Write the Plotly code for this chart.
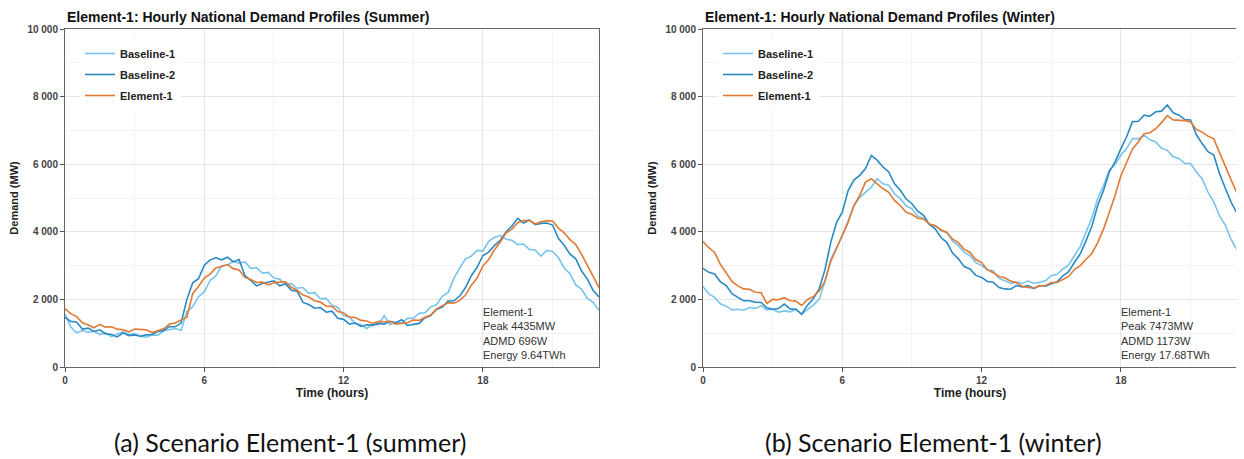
import plotly.graph_objects as go

# ---------------- data (MW, 15-minute steps from 0 h to 23 h) ----------------
HOURS = [i * 0.25 for i in range(93)]

summer_baseline1 = [
    1570, 1180, 1010, 1080,
    1030, 1060, 960, 1010,
    900, 980, 1040, 960,
    990, 910, 880, 950,
    940, 1070, 1100, 1140,
    1090, 1640, 1780, 2080,
    2220, 2560, 2700, 3000,
    3010, 3130, 3070, 3110,
    2920, 2940, 2780, 2800,
    2630, 2600, 2430, 2470,
    2330, 2350, 2180, 2200,
    2020, 2030, 1830, 1760,
    1530, 1470, 1290, 1250,
    1140, 1260, 1250, 1520,
    1250, 1330, 1300, 1440,
    1440, 1590, 1600, 1780,
    1840, 2090, 2200, 2620,
    2930, 3200, 3280, 3450,
    3430, 3720, 3840, 3890,
    3780, 3750, 3620, 3640,
    3480, 3460, 3280, 3450,
    3420, 3240, 2930, 2760,
    2430, 2300, 2030, 1910,
    1670,
]
summer_baseline2 = [
    1470, 1350, 1330, 1120,
    1150, 1050, 1100, 980,
    960, 890, 1010, 930,
    950, 910, 950, 960,
    1050, 1080, 1200, 1190,
    1300, 2000, 2490, 2610,
    3010, 3170, 3230, 3170,
    3250, 3110, 3180, 2700,
    2560, 2400, 2470, 2500,
    2550, 2400, 2460, 2270,
    2240, 1910, 1850, 1740,
    1760, 1620, 1650, 1440,
    1410, 1270, 1300, 1200,
    1250, 1240, 1290, 1270,
    1350, 1310, 1400, 1230,
    1250, 1290, 1450, 1520,
    1700, 1770, 1950, 1960,
    2100, 2350, 2700, 2950,
    3300, 3400, 3600, 3750,
    4000, 4170, 4400, 4260,
    4350, 4210, 4250, 4260,
    4200, 3810, 3600, 3340,
    3200, 2840, 2600, 2260,
    2070,
]
summer_element1 = [
    1720, 1580, 1490, 1310,
    1240, 1160, 1260, 1180,
    1190, 1120, 1100, 1040,
    1120, 1110, 1100, 1020,
    1070, 1130, 1270, 1300,
    1390, 1470, 2170, 2380,
    2630, 2750, 2930, 2980,
    3030, 2910, 2870, 2650,
    2590, 2500, 2510, 2430,
    2490, 2510, 2520, 2360,
    2270, 2130, 2070, 1960,
    1920, 1800, 1790, 1640,
    1600, 1480, 1460, 1380,
    1360, 1290, 1350, 1340,
    1350, 1270, 1300, 1310,
    1390, 1380, 1470, 1540,
    1720, 1820, 1900, 1890,
    1970, 2130, 2420, 2630,
    2990, 3180, 3470, 3700,
    3970, 4080, 4270, 4330,
    4340, 4230, 4300, 4330,
    4320, 4110, 3970, 3770,
    3620, 3330, 3020, 2680,
    2350,
]

winter_baseline1 = [
    2380, 2160, 2060, 1870,
    1800, 1690, 1710, 1680,
    1760, 1730, 1810, 1690,
    1710, 1620, 1660, 1630,
    1710, 1560, 1700, 1830,
    2000, 2520, 3180, 3530,
    3890, 4320, 4780, 5020,
    5180, 5320, 5570, 5420,
    5380, 5120, 4980, 4770,
    4680, 4470, 4390, 4220,
    4190, 4030, 3990, 3720,
    3590, 3390, 3300, 3090,
    3000, 2870, 2850, 2620,
    2550, 2470, 2510, 2470,
    2550, 2470, 2510, 2550,
    2700, 2740, 2900, 3020,
    3300, 3570, 3990, 4420,
    4980, 5370, 5820, 5990,
    6270, 6470, 6760, 6750,
    6860, 6720, 6660, 6470,
    6410, 6220, 6170, 6020,
    6020, 5770, 5570, 5170,
    4880, 4470, 4190, 3770,
    3460,
]
winter_baseline2 = [
    2920, 2800, 2750, 2520,
    2410, 2170, 2060, 1960,
    1960, 1920, 1910, 1750,
    1710, 1730, 1860, 1720,
    1710, 1560, 1830, 2020,
    2310, 2870, 3680, 4270,
    4580, 5220, 5530, 5670,
    5870, 6260, 6120, 5920,
    5770, 5420, 5230, 4970,
    4830, 4610, 4490, 4220,
    4090, 3830, 3690, 3370,
    3200, 2970, 2900, 2710,
    2650, 2530, 2510, 2350,
    2310, 2300, 2410, 2370,
    2410, 2320, 2410, 2390,
    2460, 2520, 2700, 2820,
    3100, 3350, 3740, 4170,
    4780, 5220, 5770, 6070,
    6460, 6820, 7260, 7270,
    7450, 7420, 7550, 7570,
    7750, 7520, 7450, 7320,
    7310, 6870, 6610, 6370,
    6270, 5720, 5280, 4870,
    4550,
]
winter_element1 = [
    3710, 3530, 3390, 3030,
    2790, 2530, 2400, 2310,
    2300, 2210, 2200, 1880,
    2000, 1990, 2050, 1960,
    1950, 1820, 2000, 2080,
    2250, 2530, 3120, 3500,
    3880, 4280, 4770, 5080,
    5470, 5570, 5420, 5280,
    5170, 4930, 4770, 4580,
    4520, 4400, 4380, 4230,
    4180, 4060, 3980, 3780,
    3680, 3480, 3390, 3180,
    3090, 2880, 2790, 2680,
    2640, 2540, 2500, 2380,
    2350, 2340, 2400, 2410,
    2500, 2500, 2590, 2680,
    2890, 3000, 3190, 3360,
    3680, 4080, 4570, 5080,
    5660, 6030, 6450, 6660,
    6900, 6930, 7050, 7230,
    7440, 7310, 7300, 7290,
    7250, 7030, 6950, 6830,
    6750, 6330, 5960, 5530,
    5150,
]

SERIES_NAMES = ["Baseline-1", "Baseline-2", "Element-1"]
TITLES = ["Element-1: Hourly National Demand Profiles (Summer)",
          "Element-1: Hourly National Demand Profiles (Winter)"]
STATS = ["Element-1<br>Peak 4435MW<br>ADMD 696W<br>Energy 9.64TWh",
         "Element-1<br>Peak 7473MW<br>ADMD 1173W<br>Energy 17.68TWh"]
CAPTIONS = ["(a) Scenario Element-1 (summer)", "(b) Scenario Element-1 (winter)"]
X_TICKS = [0, 6, 12, 18]
Y_TICKS = [0, 2000, 4000, 6000, 8000, 10000]
Y_TICK_LABELS = ["0", "2 000", "4 000", "6 000", "8 000", "10 000"]

# ---------------- style ----------------
OFF = 8                      # page body margin in the browser
W, H = 1244 - OFF, 459 - OFF
COLORS = ["#78c4ec", "#2a8ac3", "#e07a36"]
FONT = "Liberation Sans, Arial, sans-serif"

panels = [
    dict(data=[summer_baseline1, summer_baseline2, summer_element1], x0=65, x1=599,
         xa="x", ya="y", legend="legend", cap_x=290),
    dict(data=[winter_baseline1, winter_baseline2, winter_element1], x0=703, x1=1237,
         xa="x2", ya="y2", legend="legend2", cap_x=933),
]
Y_TOP, Y_BOT = 29, 367


def px(v):
    return (v - OFF) / W


def py(v):
    return 1 - (v - OFF) / H


fig = go.Figure()
layout = dict(width=W, height=H, margin=dict(l=0, r=0, t=0, b=0, autoexpand=False),
              paper_bgcolor="white", plot_bgcolor="white", template="none",
              font=dict(family=FONT, color="#333"), annotations=[])

for i, p in enumerate(panels):
    for k, (name, vals, col) in enumerate(zip(SERIES_NAMES, p["data"], COLORS)):
        fig.add_trace(go.Scatter(x=HOURS, y=vals, mode="lines", name=name,
                                 line=dict(color=col, width=1.6),
                                 legendgroup=f"g{i}{k}",
                                 xaxis=p["xa"], yaxis=p["ya"], legend=p["legend"]))
    sfx = "" if i == 0 else "2"
    layout["xaxis" + sfx] = dict(
        domain=[px(p["x0"]), px(p["x1"])], range=[0, 23], anchor=p["ya"], automargin=False,
        tickvals=X_TICKS, ticks="outside", ticklen=4, tickcolor="#555",
        showline=True, linecolor="#666", linewidth=1, mirror=True,
        showgrid=True, gridcolor="#e6e6e6", gridwidth=1, zeroline=False,
        minor=dict(dtick=3, showgrid=True, gridcolor="#f3f3f3", ticks=""),
        tickfont=dict(size=10, color="#444", family=FONT, weight="bold"),
        title=dict(text="Time (hours)", font=dict(size=12, color="#222", weight="bold"), standoff=1),
    )
    layout["yaxis" + sfx] = dict(
        domain=[py(Y_BOT), py(Y_TOP)], range=[0, 10000], anchor=p["xa"], automargin=False,
        tickvals=Y_TICKS, ticktext=Y_TICK_LABELS, ticks="outside", ticklen=4, tickcolor="#555",
        showline=True, linecolor="#666", linewidth=1, mirror=True,
        showgrid=True, gridcolor="#e6e6e6", gridwidth=1, zeroline=False,
        minor=dict(dtick=1000, showgrid=True, gridcolor="#f3f3f3", ticks=""),
        tickfont=dict(size=10, color="#444", family=FONT, weight="bold"),
        title=dict(text="Demand (MW)", font=dict(size=11, color="#222", weight="bold"), standoff=6),
    )
    layout["legend" + sfx] = dict(
        x=px(p["x0"] + 15), y=py(39), xanchor="left", yanchor="top",
        bgcolor="white", borderwidth=0,
        font=dict(size=11, color="#222", family=FONT, weight="bold"),
        itemwidth=30, tracegroupgap=2,
    )
    layout["annotations"].append(dict(
        text=TITLES[i], xref="paper", yref="paper", x=px(p["x0"] + 1), y=1,
        xanchor="left", yanchor="top", borderpad=0, showarrow=False,
        font=dict(size=14, color="#111", family=FONT, weight="bold")))
    layout["annotations"].append(dict(
        text=STATS[i], xref=p["xa"], yref=p["ya"], x=18, y=0, xanchor="left", yanchor="bottom",
        yshift=4, xshift=-2, align="left", showarrow=False,
        font=dict(size=11, color="#333", family=FONT)))
    layout["annotations"].append(dict(
        text=CAPTIONS[i], xref="paper", yref="paper", x=px(p["cap_x"]), y=py(442),
        xanchor="center", yanchor="middle", showarrow=False,
        font=dict(size=25, color="#111", family="Lato, sans-serif")))

fig.update_layout(**layout)
fig.write_html("out.html")
